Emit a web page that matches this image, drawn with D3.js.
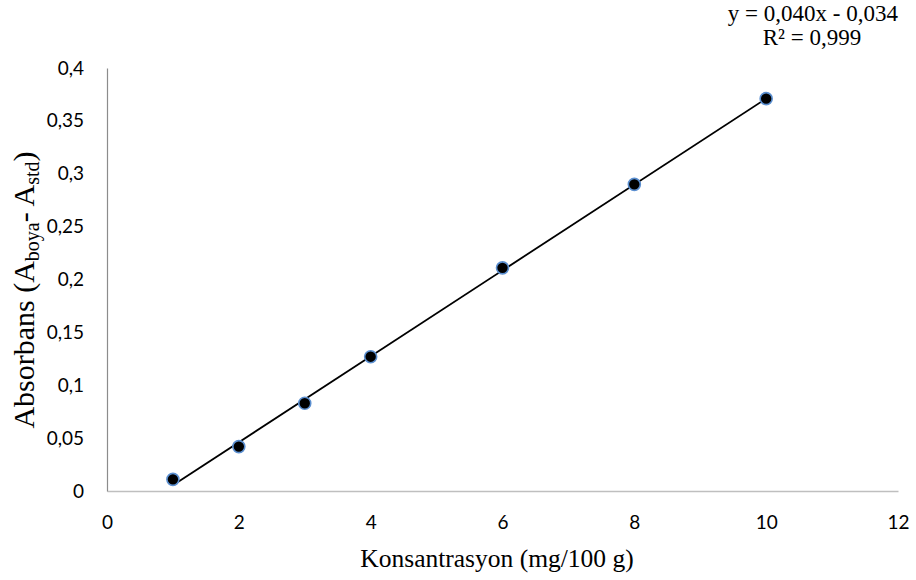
<!DOCTYPE html>
<html><head><meta charset="utf-8">
<script src="https://cdn.jsdelivr.net/npm/d3@7"></script>
<style>body{margin:0;background:#fff}</style>
</head><body>
<svg id="c" width="916" height="580"></svg>
<script>
const concentrations = [1, 2, 3, 4, 6, 8, 10];
const absorbance = [0.011, 0.042, 0.083, 0.127, 0.211, 0.290, 0.371];
const xTicks = [0, 2, 4, 6, 8, 10, 12];
const yTicks = [0, 0.05, 0.1, 0.15, 0.2, 0.25, 0.3, 0.35, 0.4];
const equationText = "y = 0,040x - 0,034";
const r2Text = "R² = 0,999";

const svg = d3.select("#c");
const x = d3.scaleLinear().domain([0, 12]).range([107, 898]);
const y = d3.scaleLinear().domain([0, 0.4]).range([491, 68]);
const fmt = v => String(v).replace(".", ",");
const tickFont = "Lato, 'Open Sans', sans-serif";

// axes
const xAxis = svg.append("g").attr("transform", "translate(0,491)")
  .call(d3.axisBottom(x).tickValues(xTicks).tickSize(0).tickPadding(25).tickFormat(fmt));
xAxis.select(".domain").attr("stroke", "#bfbfbf").attr("stroke-width", 1.5);
xAxis.selectAll("text").attr("font-family", tickFont).attr("font-size", 19).attr("fill", "#000");

const yAxis = svg.append("g").attr("transform", "translate(107,0)")
  .call(d3.axisLeft(y).tickValues(yTicks).tickSize(0).tickPadding(23).tickFormat(fmt));
yAxis.select(".domain").attr("stroke", "#8c8c8c").attr("stroke-width", 1.2);
yAxis.selectAll("text").attr("font-family", tickFont).attr("font-size", 19).attr("fill", "#000");

// linear regression trendline
const n = concentrations.length;
const mx = d3.mean(concentrations), my = d3.mean(absorbance);
let sxy = 0, sxx = 0;
for (let i = 0; i < n; i++) { sxy += (concentrations[i]-mx)*(absorbance[i]-my); sxx += (concentrations[i]-mx)**2; }
const slope = sxy / sxx, intercept = my - slope * mx;
const x0 = d3.min(concentrations), x1 = d3.max(concentrations);
svg.append("line")
  .attr("x1", x(x0)).attr("y1", y(slope*x0+intercept))
  .attr("x2", x(x1)).attr("y2", y(slope*x1+intercept))
  .attr("stroke", "#000").attr("stroke-width", 1.8);

// points
svg.append("g").selectAll("circle").data(concentrations).join("circle")
  .attr("cx", d => x(d)).attr("cy", (d, i) => y(absorbance[i]))
  .attr("r", 6).attr("fill", "#000").attr("stroke", "#5b8fd0").attr("stroke-width", 1.6);

// equation
const serif = "'Liberation Serif', 'Times New Roman', serif";
svg.append("text").attr("x", 898).attr("y", 21).attr("text-anchor", "end")
  .attr("font-family", serif).attr("font-size", 23).text(equationText);
svg.append("text").attr("x", 812).attr("y", 45).attr("text-anchor", "middle")
  .attr("font-family", serif).attr("font-size", 23).text(r2Text);

// axis titles
svg.append("text").attr("x", 497).attr("y", 567).attr("text-anchor", "middle")
  .attr("font-family", serif).attr("font-size", 25.5).text("Konsantrasyon (mg/100 g)");

const yt = svg.append("text").attr("transform", "translate(34,290) rotate(-90)")
  .attr("text-anchor", "middle").attr("font-family", serif).attr("font-size", 30);
yt.append("tspan").text("Absorbans (A");
yt.append("tspan").attr("font-size", 20).attr("dy", 5).text("boya");
yt.append("tspan").attr("dy", -5).text("- A");
yt.append("tspan").attr("font-size", 20).attr("dy", 5).text("std");
yt.append("tspan").attr("dy", -5).text(")");
</script>
</body></html>
